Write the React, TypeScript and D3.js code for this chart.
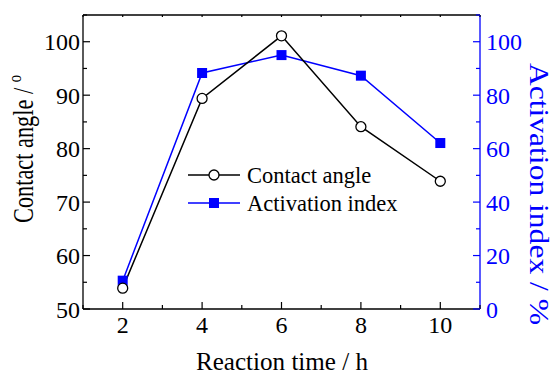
import React from "react";
import * as d3 from "d3";

const times = [2, 4, 6, 8, 10];
const contactAngle = [53.9, 89.4, 101.1, 84.1, 73.9];
const activationIndex = [10.6, 88.3, 95.0, 87.3, 62.1];
const xTicks = [2, 4, 6, 8, 10];
const xMinor = [1, 3, 5, 7, 9, 11];
const leftTicks = [50, 60, 70, 80, 90, 100];
const leftMinor = [55, 65, 75, 85, 95, 105];
const rightTicks = [0, 20, 40, 60, 80, 100];
const rightMinor = [10, 30, 50, 70, 90, 110];

const W = 553, H = 376;
const m = { left: 83, right: 480, top: 15, bottom: 309 };
const FONT = "'Liberation Serif', 'Times New Roman', Times, serif";
const BLUE = "#0000ff";

export default function App() {
  const x = d3.scaleLinear().domain([1, 11]).range([m.left, m.right]);
  const yL = d3.scaleLinear().domain([50, 105]).range([m.bottom, m.top]);
  const yR = d3.scaleLinear().domain([0, 110]).range([m.bottom, m.top]);
  const lineL = d3.line<number>().x((_, i) => x(times[i])).y((d) => yL(d));
  const lineR = d3.line<number>().x((_, i) => x(times[i])).y((d) => yR(d));

  return (
    <svg width={W} height={H} style={{ position: "absolute", left: 0, top: 0, background: "#fff", fontFamily: FONT }}>
      {/* frame */}
      <line x1={m.left} x2={m.right} y1={m.top} y2={m.top} stroke="#000" strokeWidth={1.3} />
      <line x1={m.left} x2={m.right} y1={m.bottom} y2={m.bottom} stroke="#000" strokeWidth={1.3} />
      <line x1={m.left} x2={m.left} y1={m.top} y2={m.bottom} stroke="#000" strokeWidth={1.3} />
      <line x1={m.right} x2={m.right} y1={m.top} y2={m.bottom} stroke={BLUE} strokeWidth={1.3} />

      {/* x ticks */}
      {xTicks.map((t) => (
        <g key={"xt" + t}>
          <line x1={x(t)} x2={x(t)} y1={m.bottom} y2={m.bottom - 7} stroke="#000" strokeWidth={1.2} />
          <line x1={x(t)} x2={x(t)} y1={m.top} y2={m.top + 2} stroke="#000" strokeWidth={1.2} />
          <text x={x(t)} y={333} fontSize={24} textAnchor="middle">{t}</text>
        </g>
      ))}
      {xMinor.map((t) => (
        <g key={"xm" + t}>
          <line x1={x(t)} x2={x(t)} y1={m.bottom} y2={m.bottom - 4} stroke="#000" strokeWidth={1.2} />
          <line x1={x(t)} x2={x(t)} y1={m.top} y2={m.top + 2} stroke="#000" strokeWidth={1.2} />
        </g>
      ))}

      {/* left ticks */}
      {leftTicks.map((t) => (
        <g key={"lt" + t}>
          <line x1={m.left} x2={m.left + 7} y1={yL(t)} y2={yL(t)} stroke="#000" strokeWidth={1.2} />
          <text x={80} y={yL(t) + 8.5} fontSize={24} textAnchor="end">{t}</text>
        </g>
      ))}
      {leftMinor.map((t) => (
        <line key={"lm" + t} x1={m.left} x2={m.left + 4} y1={yL(t)} y2={yL(t)} stroke="#000" strokeWidth={1.2} />
      ))}

      {/* right ticks */}
      {rightTicks.map((t) => (
        <g key={"rt" + t}>
          <line x1={m.right} x2={m.right - 7} y1={yR(t)} y2={yR(t)} stroke={BLUE} strokeWidth={1.2} />
          <text x={486} y={yR(t) + 8.5} fontSize={24} textAnchor="start" fill={BLUE}>{t}</text>
        </g>
      ))}
      {rightMinor.map((t) => (
        <line key={"rm" + t} x1={m.right} x2={m.right - 4} y1={yR(t)} y2={yR(t)} stroke={BLUE} strokeWidth={1.2} />
      ))}

      {/* series */}
      <path d={lineR(activationIndex) || ""} fill="none" stroke={BLUE} strokeWidth={1.5} />
      <path d={lineL(contactAngle) || ""} fill="none" stroke="#000" strokeWidth={1.5} />
      {activationIndex.map((v, i) => (
        <rect key={"s" + i} x={x(times[i]) - 5} y={yR(v) - 5} width={10} height={10} fill={BLUE} />
      ))}
      {contactAngle.map((v, i) => (
        <circle key={"c" + i} cx={x(times[i])} cy={yL(v)} r={5} fill="#fff" stroke="#000" strokeWidth={1.3} />
      ))}

      {/* legend */}
      <line x1={188} x2={240} y1={175} y2={175} stroke="#000" strokeWidth={1.5} />
      <circle cx={214} cy={175} r={5} fill="#fff" stroke="#000" strokeWidth={1.3} />
      <text x={247} y={183} fontSize={22.5}>Contact angle</text>
      <line x1={188} x2={240} y1={203} y2={203} stroke={BLUE} strokeWidth={1.5} />
      <rect x={209} y={198} width={10} height={10} fill={BLUE} />
      <text x={247} y={211} fontSize={22.5}>Activation index</text>

      {/* axis titles */}
      <text x={282} y={370} fontSize={26} textAnchor="middle" textLength={172} lengthAdjust="spacingAndGlyphs">
        Reaction time / h
      </text>
      <text transform={`translate(33,149) rotate(-90)`} fontSize={29} textAnchor="middle"
        textLength={148} lengthAdjust="spacingAndGlyphs">
        Contact angle / <tspan dy={-12} fontSize={19}>o</tspan>
      </text>
      <text transform={`translate(530,194) rotate(90)`} fontSize={27} textAnchor="middle" fill={BLUE}
        textLength={262} lengthAdjust="spacingAndGlyphs">
        Activation index / %
      </text>
    </svg>
  );
}
